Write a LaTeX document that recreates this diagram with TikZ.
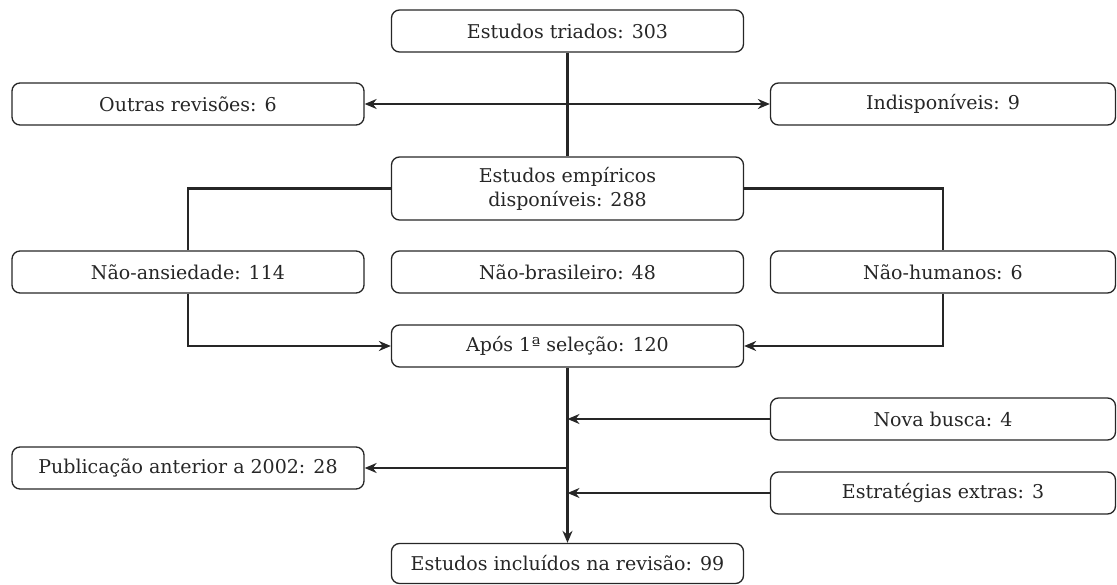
\documentclass[tikz,border=0pt]{standalone}
\usepackage{fontspec}
\setmainfont{DejaVu Serif}
\usetikzlibrary{arrows.meta}
\begin{document}
\begin{tikzpicture}[x=1pt,y=-1pt,
  box/.style={draw=black!85, line width=1.3pt, rounded corners=8pt, minimum height=42pt, inner sep=0pt, align=center, font=\fontsize{19}{24}\selectfont, text=black!85},
  wbox/.style={box, minimum width=352pt},
  conn/.style={draw=black!85, line width=2.9pt},
  arr/.style={conn, -{Stealth[length=12pt,width=10pt]}}]
\useasboundingbox (0,0) rectangle (1117,585);
\node[wbox] (triados) at (567.5,31) {Estudos triados: 303};
\node[wbox] (outras) at (188,104) {Outras revisões: 6};
\node[box, minimum width=345pt] (indisp) at (943,104) {Indisponíveis: 9};
\node[wbox, minimum height=63pt] (empir) at (567.5,188.5) {Estudos empíricos\\disponíveis: 288};
\node[wbox] (naoans) at (188,272) {Não-ansiedade: 114};
\node[wbox] (naobras) at (567.5,272) {Não-brasileiro: 48};
\node[box, minimum width=345pt] (naohum) at (943,272) {Não-humanos: 6};
\node[wbox] (apos) at (567.5,346) {Após 1ª seleção: 120};
\node[box, minimum width=345pt] (nova) at (943,419) {Nova busca: 4};
\node[wbox] (publ) at (188,468) {Publicação anterior a 2002: 28};
\node[box, minimum width=345pt] (estrat) at (943,493) {Estratégias extras: 3};
\node[wbox, minimum height=40pt] (incl) at (567.5,563.5) {Estudos incluídos na revisão: 99};
\coordinate (j1) at (triados.south |- outras.east);
\coordinate (j2) at (apos.south |- nova.west);
\coordinate (j3) at (apos.south |- publ.east);
\coordinate (j4) at (apos.south |- estrat.west);
\draw[conn] (triados.south) -- (empir.north);
\draw[arr] (j1) -- (outras.east);
\draw[arr] (j1) -- (indisp.west);
\draw[conn] (empir.west) -| (naoans.north);
\draw[conn] (empir.east) -| (naohum.north);
\draw[arr] (naoans.south) |- (apos.west);
\draw[arr] (naohum.south) |- (apos.east);
\draw[arr] (apos.south) -- (incl.north);
\draw[arr] (nova.west) -- (j2);
\draw[arr] (estrat.west) -- (j4);
\draw[arr] (j3) -- (publ.east);
\end{tikzpicture}
\end{document}
